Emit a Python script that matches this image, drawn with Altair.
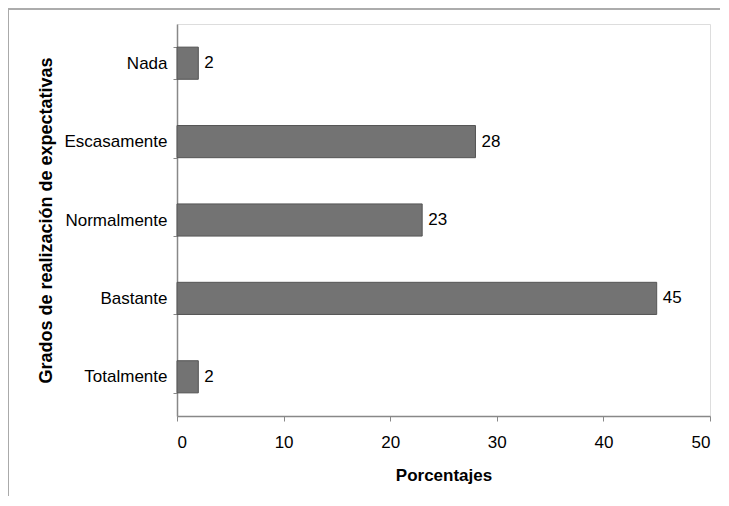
import altair as alt
import pandas as pd

categories = ["Nada", "Escasamente", "Normalmente", "Bastante", "Totalmente"]
values = [2, 28, 23, 45, 2]
x_ticks = [0, 10, 20, 30, 40, 50]

df = pd.DataFrame({"cat": categories, "val": values})

FONT = "Liberation Sans"

y_enc = alt.Y("cat:N", sort=categories,
              scale=alt.Scale(paddingInner=0.59, paddingOuter=0.295),
              axis=alt.Axis(title="Grados de realización de expectativas",
                            titleFont=FONT, titleFontSize=18, titleFontWeight="bold",
                            titleColor="black", titlePadding=9,
                            labelFont=FONT, labelFontSize=17, labelColor="black",
                            labelPadding=6, tickBand="extent", tickSize=4,
                            tickColor="#888", domainColor="#888", domainWidth=1.5))

bars = alt.Chart(df).mark_bar(color="#737373", stroke="#555555", strokeWidth=1).encode(
    x=alt.X("val:Q", scale=alt.Scale(domain=[0, 50]),
            axis=alt.Axis(values=x_ticks, title="Porcentajes", grid=False,
                          titleFont=FONT, titleFontSize=17, titleFontWeight="bold",
                          titleColor="black", titlePadding=17,
                          labelFont=FONT, labelFontSize=17, labelColor="black",
                          labelPadding=13, tickSize=5, tickColor="#888",
                          domainColor="#888", domainWidth=1.5)),
    y=y_enc,
)

labels = alt.Chart(df).mark_text(align="left", baseline="middle", dx=6, font=FONT,
                                 fontSize=17, color="black").encode(
    x="val:Q", y=alt.Y("cat:N", sort=categories), text="val:Q")

frame_top = alt.Chart(df).mark_rule(color="#aaaaaa", strokeWidth=1.2, clip=False).encode(
    x=alt.value(-169), x2=alt.value(560), y=alt.value(-15))
frame_left = alt.Chart(df).mark_rule(color="#aaaaaa", strokeWidth=1.2, clip=False).encode(
    x=alt.value(-169), y=alt.value(-15), y2=alt.value(500))

chart = alt.layer(frame_top, frame_left, bars, labels).properties(
    width=533, height=392,
    autosize=alt.AutoSizeParams(type="none"),
    padding={"left": 169, "top": 16, "right": 10, "bottom": 80},
).configure_view(stroke="#c8c8c8", strokeWidth=1).configure(background="white")

chart.save("out.html", embed_options={"renderer": "svg", "actions": False})
